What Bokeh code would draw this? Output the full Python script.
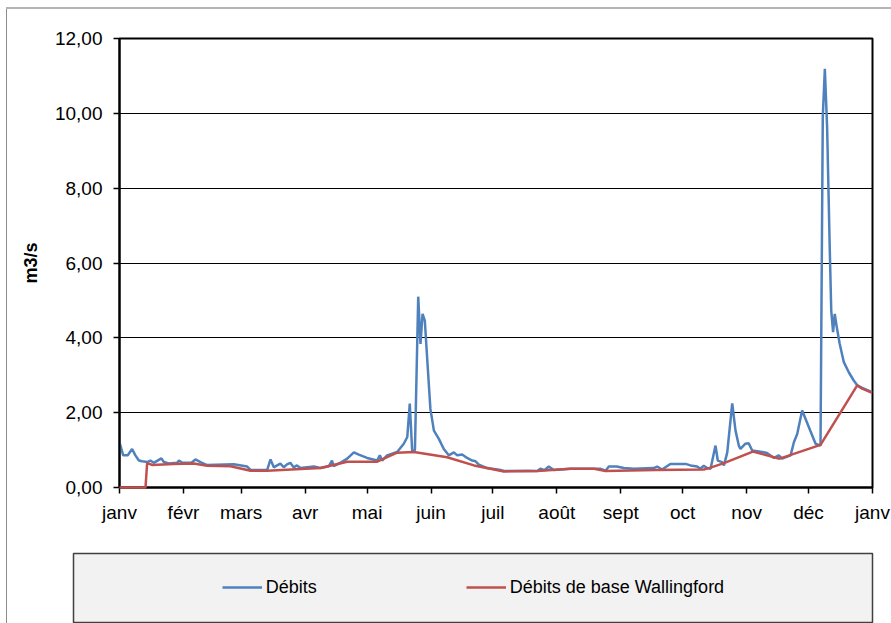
from bokeh.plotting import figure
from bokeh.models import Legend, LegendItem, FixedTicker, Range1d
from bokeh.embed import file_html
from bokeh.resources import INLINE

# ---- data (day of year, m3/s) ----
month_starts = [0, 31, 59, 90, 120, 151, 181, 212, 243, 273, 304, 334, 365]
month_labels = ["janv", "févr", "mars", "avr", "mai", "juin", "juil",
                "août", "sept", "oct", "nov", "déc", "janv"]
y_ticks = [0, 2, 4, 6, 8, 10, 12]
y_labels = ["0,00", "2,00", "4,00", "6,00", "8,00", "10,00", "12,00"]

debits_days = [0, 1.8, 4, 6.1, 7.7, 9.4, 11, 13.4, 15, 16.6, 20.3, 21.5, 23.9, 28, 28.8,
               30.5, 35, 36.8, 39.5, 42.5, 55.4, 61.9, 63.5, 71.6, 73.2, 74.8, 76.4, 78,
               79.6, 81.2, 82.8, 84.4, 86, 87.7, 94.2, 97.4, 101.5, 103, 103.8, 107,
               110.4, 113.6, 116, 120, 124.9, 126.2, 127.3, 129.7, 134.6, 137.8, 139.5,
               140.7, 141.9, 143.2, 144.8, 145.9, 146.9, 148, 149.1, 150.7, 152.4,
               154.8, 157.2, 159.6, 162.1, 163.7, 166.1, 168.5, 171, 172.6, 174.2,
               178.2, 184.7, 186.3, 198, 202.5, 204, 206, 208.1, 210.5, 218.6, 233,
               235.6, 237.2, 241, 244.5, 249.3, 259, 260.6, 263, 267, 274.4, 276.8,
               280, 281.6, 283.2, 284.9, 286.5, 288.9, 290, 292.1, 293, 294.6, 297,
               298.6, 300.2, 301, 303.4, 305, 306.7, 312.3, 313.9, 317.2, 319.6, 321.2,
               325.3, 326.9, 328.5, 330.9, 337.4, 339.8, 340.9, 341.9, 343, 344.3, 345,
               345.9, 346.7, 347.7, 349.1, 351.1, 353.5, 355.9, 357.6, 360, 364.8]
debits_values = [1.21, 0.86, 0.86, 1.03, 0.86, 0.72, 0.70, 0.68, 0.72, 0.66, 0.78, 0.68, 0.64, 0.66, 0.72,
                 0.66, 0.67, 0.75, 0.67, 0.60, 0.62, 0.56, 0.47, 0.47, 0.75, 0.54, 0.59, 0.64,
                 0.54, 0.62, 0.66, 0.54, 0.59, 0.52, 0.56, 0.52, 0.57, 0.72, 0.57, 0.66,
                 0.77, 0.94, 0.88, 0.79, 0.72, 0.86, 0.72, 0.86, 0.95, 1.17, 1.35,
                 2.24, 0.95, 1.00, 5.10, 3.84, 4.64, 4.46, 3.48, 2.10, 1.52,
                 1.30, 1.03, 0.86, 0.94, 0.86, 0.88, 0.79, 0.72, 0.70, 0.61,
                 0.52, 0.47, 0.44, 0.45, 0.44, 0.50, 0.46, 0.56, 0.47, 0.50, 0.50,
                 0.45, 0.56, 0.56, 0.52, 0.50, 0.52, 0.56, 0.48, 0.63, 0.63, 0.59,
                 0.56, 0.50, 0.58, 0.52, 0.50, 1.12, 0.72, 0.68, 0.59, 0.94, 2.25,
                 1.52, 1.12, 1.03, 1.17, 1.18, 0.99, 0.94, 0.92, 0.79, 0.86, 0.77,
                 0.86, 1.21, 1.43, 2.06, 1.17, 1.12, 9.90, 11.19, 9.63, 6.33, 4.73,
                 4.15, 4.64, 4.28, 3.84, 3.35, 3.08, 2.86, 2.73, 2.66, 2.55]

base_days = [0, 12.6, 13.4, 16, 26, 36, 42.5, 53.8, 63.5, 71.6, 97.4, 110.4, 124.9, 134.6,
             142.7, 158.8, 171.8, 179.8, 186.3, 202.5, 218.6, 230, 235.6, 260, 283.2, 286.5,
             293, 307, 320, 339.8, 357.6, 360, 364.8]
base_values = [0, 0, 0.65, 0.60, 0.63, 0.64, 0.58, 0.57, 0.45, 0.45, 0.52, 0.69, 0.69, 0.93,
               0.95, 0.81, 0.59, 0.50, 0.43, 0.44, 0.50, 0.50, 0.44, 0.47, 0.48, 0.53,
               0.65, 0.96, 0.77, 1.14, 2.73, 2.64, 2.53]

FONT = "Liberation Sans"
BLUE = "#4F81BD"
RED = "#C0504D"

# thin grey chart-area border (top and left edges), drawn behind the transparent canvas
main_border_css = ("linear-gradient(#b4b4b4, #b4b4b4) 6px 7px / 885px 2px no-repeat, "
                   "linear-gradient(#8c8c8c, #8c8c8c) 6px 7px / 1px 538px no-repeat, white")
legend_border_css = "linear-gradient(#8c8c8c, #8c8c8c) 6px 0px / 1px 78px no-repeat, white"

p = figure(width=891, height=545, x_range=Range1d(0, 365), y_range=Range1d(0, 12),
           output_backend="svg", toolbar_location=None,
           min_border_left=119, min_border_right=19, min_border_top=38, min_border_bottom=58,
           background_fill_color="white", border_fill_alpha=0,
           styles={"background": main_border_css})

p.outline_line_color = "black"
p.outline_line_width = 2

p.xaxis.ticker = FixedTicker(ticks=month_starts)
p.xaxis.major_label_overrides = {d: l for d, l in zip(month_starts, month_labels)}
p.yaxis.ticker = FixedTicker(ticks=y_ticks)
p.yaxis.major_label_overrides = {t: l for t, l in zip(y_ticks, y_labels)}

for ax in (p.xaxis[0], p.yaxis[0]):
    ax.axis_line_color = "black"
    ax.axis_line_width = 2
    ax.major_tick_in = 0
    ax.major_tick_out = 6
    ax.major_tick_line_width = 1.5
    ax.major_tick_line_color = "black"
    ax.minor_tick_line_color = None
    ax.major_label_text_font = FONT
    ax.major_label_text_font_size = "19px"
    ax.major_label_text_color = "black"

p.xaxis.major_label_standoff = 8
p.yaxis.major_label_standoff = 11
p.yaxis.axis_label = "m3/s"
p.yaxis.axis_label_text_font = FONT
p.yaxis.axis_label_text_font_size = "18px"
p.yaxis.axis_label_text_font_style = "bold"
p.yaxis.axis_label_text_color = "black"
p.yaxis.axis_label_standoff = 11

p.xgrid.visible = False
p.ygrid.grid_line_color = "black"
p.ygrid.grid_line_width = 1

r1 = p.line(debits_days, debits_values, line_color=BLUE, line_width=2.5)
r2 = p.line(base_days, base_values, line_color=RED, line_width=2.5)
r2.level = "overlay"

# ---- legend panel below the chart (separate root, no frame alignment) ----
pl = figure(width=891, height=78, x_range=Range1d(0, 1), y_range=Range1d(0, 1),
            x_axis_type=None, y_axis_type=None,
            output_backend="svg", toolbar_location=None,
            min_border_left=73, min_border_right=19, min_border_top=8, min_border_bottom=1,
            background_fill_color="#f2f2f2", border_fill_alpha=0,
            styles={"background": legend_border_css})
pl.outline_line_color = "#404040"
pl.outline_line_width = 1.5

# legend swatches: same styling, placed outside the visible range
k1 = pl.line([-2, -1], [-2, -2], line_color=BLUE, line_width=2.5)
k2 = pl.line([-2, -1], [-2, -2], line_color=RED, line_width=2.5)

legend = Legend(items=[LegendItem(label="Débits", renderers=[k1]),
                       LegendItem(label="Débits de base Wallingford", renderers=[k2])],
                orientation="horizontal", location=(148.7, 23.7), padding=0, spacing=50,
                glyph_width=40, glyph_height=22, label_height=22, label_width=150,
                label_standoff=4, border_line_color=None, background_fill_alpha=0,
                label_text_font=FONT, label_text_font_size="18px", label_text_color="black",
                margin=0)
pl.add_layout(legend)

open("out.html", "w").write(file_html([p, pl], INLINE))
